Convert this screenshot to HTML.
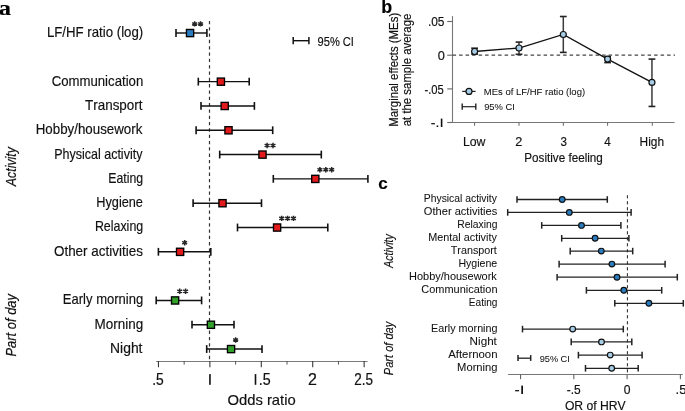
<!DOCTYPE html>
<html><head><meta charset="utf-8"><style>
html,body{margin:0;padding:0;background:#fff;}
body{width:685px;height:411px;overflow:hidden;}
svg{display:block;font-family:"Liberation Sans", sans-serif;font-kerning:none;will-change:transform;}
text{stroke:#111;stroke-width:0.16px;}
</style></head><body>
<svg width="685" height="411" viewBox="0 0 685 411">
<rect width="685" height="411" fill="#fff"/>
<text x="-1.19" y="14.80" font-size="22" textLength="12.26" lengthAdjust="spacingAndGlyphs" font-weight="bold" font-family='"Liberation Serif", serif' fill="#000">a</text>
<line x1="209.50" y1="20.90" x2="209.50" y2="361.00" stroke="#333" stroke-width="1.2" stroke-dasharray="3.3 3.02"/>
<line x1="156.20" y1="361.50" x2="367.60" y2="361.50" stroke="#7a7a7a" stroke-width="1.0" />
<line x1="158.45" y1="361.00" x2="158.45" y2="367.30" stroke="#3a3a3a" stroke-width="1.1" />
<line x1="209.88" y1="361.00" x2="209.88" y2="367.30" stroke="#3a3a3a" stroke-width="1.1" />
<line x1="261.30" y1="361.00" x2="261.30" y2="367.30" stroke="#3a3a3a" stroke-width="1.1" />
<line x1="312.72" y1="361.00" x2="312.72" y2="367.30" stroke="#3a3a3a" stroke-width="1.1" />
<line x1="364.15" y1="361.00" x2="364.15" y2="367.30" stroke="#3a3a3a" stroke-width="1.1" />
<line x1="184.16" y1="361.00" x2="184.16" y2="364.60" stroke="#555" stroke-width="1.0" />
<line x1="235.59" y1="361.00" x2="235.59" y2="364.60" stroke="#555" stroke-width="1.0" />
<line x1="287.01" y1="361.00" x2="287.01" y2="364.60" stroke="#555" stroke-width="1.0" />
<line x1="338.44" y1="361.00" x2="338.44" y2="364.60" stroke="#555" stroke-width="1.0" />
<text x="152.14" y="384.80" font-size="16.2" textLength="11.55" lengthAdjust="spacingAndGlyphs" style="stroke-width:0.22px" fill="#111">.5</text>
<rect x="209.15" y="374.10" width="1.60" height="10.70" fill="#111"/>
<rect x="254.70" y="374.10" width="1.60" height="10.70" fill="#111"/>
<text x="258.70" y="384.80" font-size="16.2" textLength="11.90" lengthAdjust="spacingAndGlyphs" style="stroke-width:0.22px" fill="#111">.5</text>
<text x="307.99" y="384.80" font-size="16.2" textLength="8.91" lengthAdjust="spacingAndGlyphs" style="stroke-width:0.22px" fill="#111">2</text>
<text x="354.22" y="384.80" font-size="16.2" textLength="18.74" lengthAdjust="spacingAndGlyphs" style="stroke-width:0.22px" fill="#111">2.5</text>
<text x="227.40" y="404.80" font-size="14.6" textLength="68.32" lengthAdjust="spacingAndGlyphs" fill="#111">Odds ratio</text>
<line x1="293.20" y1="40.70" x2="309.00" y2="40.70" stroke="#111" stroke-width="1.4" />
<line x1="293.20" y1="37.10" x2="293.20" y2="44.30" stroke="#111" stroke-width="1.5" />
<line x1="308.90" y1="37.10" x2="308.90" y2="44.30" stroke="#111" stroke-width="1.5" />
<text x="317.58" y="45.60" font-size="12.2" textLength="36.34" lengthAdjust="spacingAndGlyphs" fill="#111">95% CI</text>
<text x="46.91" y="36.95" font-size="14.1" textLength="96.31" lengthAdjust="spacingAndGlyphs" fill="#111">LF/HF ratio (log)</text>
<line x1="176.00" y1="33.00" x2="206.90" y2="33.00" stroke="#111" stroke-width="1.45" />
<line x1="176.00" y1="29.10" x2="176.00" y2="36.90" stroke="#111" stroke-width="1.6" />
<line x1="206.90" y1="29.10" x2="206.90" y2="36.90" stroke="#111" stroke-width="1.6" />
<rect x="186.45" y="29.45" width="7.2" height="7.2" fill="#2a7cc0" stroke="#000" stroke-width="1.35"/>
<path d="M194.65 21.20V26.60M192.20 22.55L197.10 25.25M192.20 25.25L197.10 22.55" stroke="#262626" stroke-width="1.5" fill="none"/>
<path d="M200.55 21.20V26.60M198.10 22.55L203.00 25.25M198.10 25.25L203.00 22.55" stroke="#262626" stroke-width="1.5" fill="none"/>
<text x="51.63" y="85.57" font-size="14.1" textLength="91.63" lengthAdjust="spacingAndGlyphs" fill="#111">Communication</text>
<line x1="198.30" y1="81.62" x2="249.20" y2="81.62" stroke="#111" stroke-width="1.45" />
<line x1="198.30" y1="77.72" x2="198.30" y2="85.52" stroke="#111" stroke-width="1.6" />
<line x1="249.20" y1="77.72" x2="249.20" y2="85.52" stroke="#111" stroke-width="1.6" />
<rect x="217.30" y="78.07" width="7.2" height="7.2" fill="#e31a1c" stroke="#000" stroke-width="1.35"/>
<text x="85.00" y="109.88" font-size="14.1" textLength="57.50" lengthAdjust="spacingAndGlyphs" fill="#111">Transport</text>
<line x1="201.00" y1="105.93" x2="254.40" y2="105.93" stroke="#111" stroke-width="1.45" />
<line x1="201.00" y1="102.03" x2="201.00" y2="109.83" stroke="#111" stroke-width="1.6" />
<line x1="254.40" y1="102.03" x2="254.40" y2="109.83" stroke="#111" stroke-width="1.6" />
<rect x="221.10" y="102.38" width="7.2" height="7.2" fill="#e31a1c" stroke="#000" stroke-width="1.35"/>
<text x="35.71" y="134.19" font-size="14.1" textLength="106.67" lengthAdjust="spacingAndGlyphs" fill="#111">Hobby/housework</text>
<line x1="196.10" y1="130.24" x2="272.70" y2="130.24" stroke="#111" stroke-width="1.45" />
<line x1="196.10" y1="126.34" x2="196.10" y2="134.14" stroke="#111" stroke-width="1.6" />
<line x1="272.70" y1="126.34" x2="272.70" y2="134.14" stroke="#111" stroke-width="1.6" />
<rect x="224.90" y="126.69" width="7.2" height="7.2" fill="#e31a1c" stroke="#000" stroke-width="1.35"/>
<text x="54.17" y="158.50" font-size="14.1" textLength="88.25" lengthAdjust="spacingAndGlyphs" fill="#111">Physical activity</text>
<line x1="219.70" y1="154.55" x2="321.30" y2="154.55" stroke="#111" stroke-width="1.45" />
<line x1="219.70" y1="150.65" x2="219.70" y2="158.45" stroke="#111" stroke-width="1.6" />
<line x1="321.30" y1="150.65" x2="321.30" y2="158.45" stroke="#111" stroke-width="1.6" />
<rect x="258.90" y="151.00" width="7.2" height="7.2" fill="#e31a1c" stroke="#000" stroke-width="1.35"/>
<path d="M267.10 142.75V148.15M264.65 144.10L269.55 146.80M264.65 146.80L269.55 144.10" stroke="#262626" stroke-width="1.5" fill="none"/>
<path d="M273.00 142.75V148.15M270.55 144.10L275.45 146.80M270.55 146.80L275.45 144.10" stroke="#262626" stroke-width="1.5" fill="none"/>
<text x="108.29" y="182.81" font-size="14.1" textLength="34.90" lengthAdjust="spacingAndGlyphs" fill="#111">Eating</text>
<line x1="273.30" y1="178.86" x2="367.90" y2="178.86" stroke="#111" stroke-width="1.45" />
<line x1="273.30" y1="174.96" x2="273.30" y2="182.76" stroke="#111" stroke-width="1.6" />
<line x1="367.90" y1="174.96" x2="367.90" y2="182.76" stroke="#111" stroke-width="1.6" />
<rect x="311.70" y="175.31" width="7.2" height="7.2" fill="#e31a1c" stroke="#000" stroke-width="1.35"/>
<path d="M319.90 167.06V172.46M317.45 168.41L322.35 171.11M317.45 171.11L322.35 168.41" stroke="#262626" stroke-width="1.5" fill="none"/>
<path d="M325.80 167.06V172.46M323.35 168.41L328.25 171.11M323.35 171.11L328.25 168.41" stroke="#262626" stroke-width="1.5" fill="none"/>
<path d="M331.70 167.06V172.46M329.25 168.41L334.15 171.11M329.25 171.11L334.15 168.41" stroke="#262626" stroke-width="1.5" fill="none"/>
<text x="96.26" y="207.12" font-size="14.1" textLength="46.71" lengthAdjust="spacingAndGlyphs" fill="#111">Hygiene</text>
<line x1="193.10" y1="203.17" x2="261.50" y2="203.17" stroke="#111" stroke-width="1.45" />
<line x1="193.10" y1="199.27" x2="193.10" y2="207.07" stroke="#111" stroke-width="1.6" />
<line x1="261.50" y1="199.27" x2="261.50" y2="207.07" stroke="#111" stroke-width="1.6" />
<rect x="218.90" y="199.62" width="7.2" height="7.2" fill="#e31a1c" stroke="#000" stroke-width="1.35"/>
<text x="94.88" y="231.43" font-size="14.1" textLength="48.32" lengthAdjust="spacingAndGlyphs" fill="#111">Relaxing</text>
<line x1="237.50" y1="227.48" x2="327.80" y2="227.48" stroke="#111" stroke-width="1.45" />
<line x1="237.50" y1="223.58" x2="237.50" y2="231.38" stroke="#111" stroke-width="1.6" />
<line x1="327.80" y1="223.58" x2="327.80" y2="231.38" stroke="#111" stroke-width="1.6" />
<rect x="273.50" y="223.93" width="7.2" height="7.2" fill="#e31a1c" stroke="#000" stroke-width="1.35"/>
<path d="M281.70 215.68V221.08M279.25 217.03L284.15 219.73M279.25 219.73L284.15 217.03" stroke="#262626" stroke-width="1.5" fill="none"/>
<path d="M287.60 215.68V221.08M285.15 217.03L290.05 219.73M285.15 219.73L290.05 217.03" stroke="#262626" stroke-width="1.5" fill="none"/>
<path d="M293.50 215.68V221.08M291.05 217.03L295.95 219.73M291.05 219.73L295.95 217.03" stroke="#262626" stroke-width="1.5" fill="none"/>
<text x="53.96" y="255.74" font-size="14.1" textLength="88.92" lengthAdjust="spacingAndGlyphs" fill="#111">Other activities</text>
<line x1="158.40" y1="251.79" x2="210.80" y2="251.79" stroke="#111" stroke-width="1.45" />
<line x1="158.40" y1="247.89" x2="158.40" y2="255.69" stroke="#111" stroke-width="1.6" />
<line x1="210.80" y1="247.89" x2="210.80" y2="255.69" stroke="#111" stroke-width="1.6" />
<rect x="176.50" y="248.24" width="7.2" height="7.2" fill="#e31a1c" stroke="#000" stroke-width="1.35"/>
<path d="M184.70 239.99V245.39M182.25 241.34L187.15 244.04M182.25 244.04L187.15 241.34" stroke="#262626" stroke-width="1.5" fill="none"/>
<text x="62.83" y="304.36" font-size="14.1" textLength="80.41" lengthAdjust="spacingAndGlyphs" fill="#111">Early morning</text>
<line x1="156.20" y1="300.41" x2="201.60" y2="300.41" stroke="#111" stroke-width="1.45" />
<line x1="156.20" y1="296.51" x2="156.20" y2="304.31" stroke="#111" stroke-width="1.6" />
<line x1="201.60" y1="296.51" x2="201.60" y2="304.31" stroke="#111" stroke-width="1.6" />
<rect x="171.50" y="296.86" width="7.2" height="7.2" fill="#33a02c" stroke="#000" stroke-width="1.35"/>
<path d="M179.70 288.61V294.01M177.25 289.96L182.15 292.66M177.25 292.66L182.15 289.96" stroke="#262626" stroke-width="1.5" fill="none"/>
<path d="M185.60 288.61V294.01M183.15 289.96L188.05 292.66M183.15 292.66L188.05 289.96" stroke="#262626" stroke-width="1.5" fill="none"/>
<text x="94.59" y="328.67" font-size="14.1" textLength="48.67" lengthAdjust="spacingAndGlyphs" fill="#111">Morning</text>
<line x1="192.00" y1="324.72" x2="234.00" y2="324.72" stroke="#111" stroke-width="1.45" />
<line x1="192.00" y1="320.82" x2="192.00" y2="328.62" stroke="#111" stroke-width="1.6" />
<line x1="234.00" y1="320.82" x2="234.00" y2="328.62" stroke="#111" stroke-width="1.6" />
<rect x="207.30" y="321.17" width="7.2" height="7.2" fill="#33a02c" stroke="#000" stroke-width="1.35"/>
<text x="110.06" y="352.98" font-size="14.1" textLength="32.44" lengthAdjust="spacingAndGlyphs" fill="#111">Night</text>
<line x1="206.70" y1="349.03" x2="262.00" y2="349.03" stroke="#111" stroke-width="1.45" />
<line x1="206.70" y1="345.13" x2="206.70" y2="352.93" stroke="#111" stroke-width="1.6" />
<line x1="262.00" y1="345.13" x2="262.00" y2="352.93" stroke="#111" stroke-width="1.6" />
<rect x="227.45" y="345.48" width="7.2" height="7.2" fill="#33a02c" stroke="#000" stroke-width="1.35"/>
<path d="M235.65 337.23V342.63M233.20 338.58L238.10 341.28M233.20 341.28L238.10 338.58" stroke="#262626" stroke-width="1.5" fill="none"/>
<text x="-186.19" y="15.70" font-size="14.2" textLength="39.17" lengthAdjust="spacingAndGlyphs" font-style="italic" transform="rotate(-90)" style="stroke-width:0.2px" fill="#111">Activity</text>
<text x="-356.50" y="15.70" font-size="14.4" textLength="62.45" lengthAdjust="spacingAndGlyphs" font-style="italic" transform="rotate(-90)" style="stroke-width:0.2px" fill="#111">Part of day</text>
<text x="381.32" y="12.50" font-size="17.5" textLength="10.91" lengthAdjust="spacingAndGlyphs" font-weight="bold" fill="#000">b</text>
<line x1="452.50" y1="16.10" x2="452.50" y2="122.50" stroke="#777" stroke-width="1.1" />
<line x1="447.20" y1="21.50" x2="452.50" y2="21.50" stroke="#666" stroke-width="1.1" />
<line x1="447.20" y1="55.20" x2="452.50" y2="55.20" stroke="#666" stroke-width="1.1" />
<line x1="447.20" y1="88.90" x2="452.50" y2="88.90" stroke="#666" stroke-width="1.1" />
<line x1="447.20" y1="122.50" x2="452.50" y2="122.50" stroke="#666" stroke-width="1.1" />
<text x="427.91" y="26.30" font-size="12.6" textLength="16.59" lengthAdjust="spacingAndGlyphs" fill="#111">.05</text>
<text x="437.80" y="59.80" font-size="12.6" textLength="7.10" lengthAdjust="spacingAndGlyphs" fill="#111">0</text>
<text x="424.40" y="93.80" font-size="12.6" textLength="19.37" lengthAdjust="spacingAndGlyphs" fill="#111">-.05</text>
<text x="430.87" y="127.00" font-size="12.6" textLength="8.61" lengthAdjust="spacingAndGlyphs" fill="#111">-.</text>
<rect x="440.80" y="118.60" width="1.60" height="8.40" fill="#111"/>
<line x1="452.00" y1="122.50" x2="674.60" y2="122.50" stroke="#777" stroke-width="1.1" />
<line x1="474.60" y1="122.50" x2="474.60" y2="125.80" stroke="#666" stroke-width="1.0" />
<line x1="519.00" y1="122.50" x2="519.00" y2="125.80" stroke="#666" stroke-width="1.0" />
<line x1="563.30" y1="122.50" x2="563.30" y2="125.80" stroke="#666" stroke-width="1.0" />
<line x1="607.60" y1="122.50" x2="607.60" y2="125.80" stroke="#666" stroke-width="1.0" />
<line x1="652.30" y1="122.50" x2="652.30" y2="125.80" stroke="#666" stroke-width="1.0" />
<text x="462.89" y="145.80" font-size="12.6" textLength="22.58" lengthAdjust="spacingAndGlyphs" fill="#111">Low</text>
<text x="515.36" y="145.80" font-size="12.6" textLength="7.08" lengthAdjust="spacingAndGlyphs" fill="#111">2</text>
<text x="560.46" y="145.80" font-size="12.6" textLength="6.45" lengthAdjust="spacingAndGlyphs" fill="#111">3</text>
<text x="604.23" y="145.80" font-size="12.6" textLength="6.51" lengthAdjust="spacingAndGlyphs" fill="#111">4</text>
<text x="639.62" y="146.00" font-size="12.6" textLength="24.45" lengthAdjust="spacingAndGlyphs" fill="#111">High</text>
<text x="524.34" y="161.80" font-size="12.4" textLength="78.51" lengthAdjust="spacingAndGlyphs" fill="#111">Positive feeling</text>
<text x="-126.84" y="398.20" font-size="12.4" textLength="114.04" lengthAdjust="spacingAndGlyphs" transform="rotate(-90)" fill="#111">Marginal effects (MEs)</text>
<text x="-126.28" y="410.70" font-size="12.4" textLength="112.59" lengthAdjust="spacingAndGlyphs" transform="rotate(-90)" fill="#111">at the sample average</text>
<line x1="452.60" y1="55.15" x2="675.00" y2="55.15" stroke="#444" stroke-width="1.25" stroke-dasharray="3.5 3.0"/>
<line x1="474.60" y1="48.20" x2="474.60" y2="54.10" stroke="#3a3a3a" stroke-width="1.5" />
<line x1="471.20" y1="48.20" x2="478.00" y2="48.20" stroke="#222" stroke-width="1.6" />
<line x1="471.20" y1="54.10" x2="478.00" y2="54.10" stroke="#222" stroke-width="1.6" />
<line x1="519.00" y1="42.10" x2="519.00" y2="54.30" stroke="#3a3a3a" stroke-width="1.5" />
<line x1="515.60" y1="42.10" x2="522.40" y2="42.10" stroke="#222" stroke-width="1.6" />
<line x1="515.60" y1="54.30" x2="522.40" y2="54.30" stroke="#222" stroke-width="1.6" />
<line x1="563.30" y1="16.50" x2="563.30" y2="52.40" stroke="#3a3a3a" stroke-width="1.5" />
<line x1="559.90" y1="16.50" x2="566.70" y2="16.50" stroke="#222" stroke-width="1.6" />
<line x1="559.90" y1="52.40" x2="566.70" y2="52.40" stroke="#222" stroke-width="1.6" />
<line x1="607.60" y1="56.70" x2="607.60" y2="62.60" stroke="#3a3a3a" stroke-width="1.5" />
<line x1="604.20" y1="56.70" x2="611.00" y2="56.70" stroke="#222" stroke-width="1.6" />
<line x1="604.20" y1="62.60" x2="611.00" y2="62.60" stroke="#222" stroke-width="1.6" />
<line x1="651.95" y1="59.10" x2="651.95" y2="106.45" stroke="#3a3a3a" stroke-width="1.5" />
<line x1="648.55" y1="59.10" x2="655.35" y2="59.10" stroke="#222" stroke-width="1.6" />
<line x1="648.55" y1="106.45" x2="655.35" y2="106.45" stroke="#222" stroke-width="1.6" />
<polyline points="474.60,51.50 519.00,48.00 563.30,34.50 607.60,59.10 651.95,82.45" fill="none" stroke="#111" stroke-width="1.3"/>
<circle cx="474.60" cy="51.50" r="3.0" fill="#a7cde6" stroke="#111" stroke-width="1.2"/>
<circle cx="519.00" cy="48.00" r="3.0" fill="#a7cde6" stroke="#111" stroke-width="1.2"/>
<circle cx="563.30" cy="34.50" r="3.0" fill="#a7cde6" stroke="#111" stroke-width="1.2"/>
<circle cx="607.60" cy="59.10" r="3.0" fill="#a7cde6" stroke="#111" stroke-width="1.2"/>
<circle cx="651.95" cy="82.45" r="3.0" fill="#a7cde6" stroke="#111" stroke-width="1.2"/>
<line x1="462.20" y1="91.40" x2="475.60" y2="91.40" stroke="#222" stroke-width="1.2" />
<circle cx="469.0" cy="91.4" r="3.0" fill="#a7cde6" stroke="#111" stroke-width="1.2"/>
<text x="483.82" y="94.75" font-size="9.6" textLength="101.27" lengthAdjust="spacingAndGlyphs" style="stroke-width:0.05px" fill="#111">MEs of LF/HF ratio (log)</text>
<line x1="462.20" y1="106.70" x2="475.80" y2="106.70" stroke="#222" stroke-width="1.2" />
<line x1="462.20" y1="103.60" x2="462.20" y2="109.80" stroke="#222" stroke-width="1.4" />
<line x1="475.80" y1="103.60" x2="475.80" y2="109.80" stroke="#222" stroke-width="1.4" />
<text x="484.16" y="109.60" font-size="9.6" textLength="30.70" lengthAdjust="spacingAndGlyphs" style="stroke-width:0.05px" fill="#111">95% CI</text>
<text x="378.34" y="189.00" font-size="16.6" textLength="9.46" lengthAdjust="spacingAndGlyphs" font-weight="bold" fill="#000">c</text>
<line x1="627.40" y1="195.20" x2="627.40" y2="374.40" stroke="#222" stroke-width="1.0" stroke-dasharray="3.2 2.8"/>
<line x1="508.10" y1="374.50" x2="682.80" y2="374.50" stroke="#777" stroke-width="1.0" />
<line x1="520.60" y1="374.50" x2="520.60" y2="379.20" stroke="#555" stroke-width="1.0" />
<line x1="573.85" y1="374.50" x2="573.85" y2="379.20" stroke="#555" stroke-width="1.0" />
<line x1="627.10" y1="374.50" x2="627.10" y2="379.20" stroke="#555" stroke-width="1.0" />
<line x1="680.35" y1="374.50" x2="680.35" y2="379.20" stroke="#555" stroke-width="1.0" />
<text x="514.61" y="394.00" font-size="12" textLength="5.18" lengthAdjust="spacingAndGlyphs" fill="#111">-</text>
<rect x="521.30" y="385.60" width="1.70" height="8.40" fill="#111"/>
<text x="566.67" y="394.00" font-size="12" textLength="13.93" lengthAdjust="spacingAndGlyphs" fill="#111">-.5</text>
<text x="623.83" y="394.10" font-size="12" textLength="6.75" lengthAdjust="spacingAndGlyphs" fill="#111">0</text>
<text x="675.60" y="394.00" font-size="12" textLength="10.95" lengthAdjust="spacingAndGlyphs" fill="#111">.5</text>
<text x="564.92" y="410.20" font-size="12.2" textLength="60.83" lengthAdjust="spacingAndGlyphs" fill="#111">OR of HRV</text>
<text x="423.85" y="202.30" font-size="10.5" textLength="72.97" lengthAdjust="spacingAndGlyphs" style="stroke-width:0.05px" fill="#111">Physical activity</text>
<line x1="517.00" y1="199.50" x2="607.30" y2="199.50" stroke="#222" stroke-width="1.3" />
<line x1="517.00" y1="196.20" x2="517.00" y2="202.80" stroke="#222" stroke-width="1.5" />
<line x1="607.30" y1="196.20" x2="607.30" y2="202.80" stroke="#222" stroke-width="1.5" />
<circle cx="562.20" cy="199.50" r="2.85" fill="#2a7cc0" stroke="#111" stroke-width="1.2"/>
<text x="423.87" y="215.20" font-size="10.5" textLength="73.33" lengthAdjust="spacingAndGlyphs" style="stroke-width:0.05px" fill="#111">Other activities</text>
<line x1="507.70" y1="212.40" x2="631.10" y2="212.40" stroke="#222" stroke-width="1.3" />
<line x1="507.70" y1="209.10" x2="507.70" y2="215.70" stroke="#222" stroke-width="1.5" />
<line x1="631.10" y1="209.10" x2="631.10" y2="215.70" stroke="#222" stroke-width="1.5" />
<circle cx="569.30" cy="212.40" r="2.85" fill="#2a7cc0" stroke="#111" stroke-width="1.2"/>
<text x="457.35" y="228.20" font-size="10.5" textLength="40.11" lengthAdjust="spacingAndGlyphs" style="stroke-width:0.05px" fill="#111">Relaxing</text>
<line x1="541.70" y1="225.40" x2="620.90" y2="225.40" stroke="#222" stroke-width="1.3" />
<line x1="541.70" y1="222.10" x2="541.70" y2="228.70" stroke="#222" stroke-width="1.5" />
<line x1="620.90" y1="222.10" x2="620.90" y2="228.70" stroke="#222" stroke-width="1.5" />
<circle cx="581.50" cy="225.40" r="2.85" fill="#2a7cc0" stroke="#111" stroke-width="1.2"/>
<text x="428.21" y="241.10" font-size="10.5" textLength="68.61" lengthAdjust="spacingAndGlyphs" style="stroke-width:0.05px" fill="#111">Mental activity</text>
<line x1="561.70" y1="238.30" x2="628.90" y2="238.30" stroke="#222" stroke-width="1.3" />
<line x1="561.70" y1="235.00" x2="561.70" y2="241.60" stroke="#222" stroke-width="1.5" />
<line x1="628.90" y1="235.00" x2="628.90" y2="241.60" stroke="#222" stroke-width="1.5" />
<circle cx="595.10" cy="238.30" r="2.85" fill="#2a7cc0" stroke="#111" stroke-width="1.2"/>
<text x="450.76" y="253.90" font-size="10.5" textLength="46.12" lengthAdjust="spacingAndGlyphs" style="stroke-width:0.05px" fill="#111">Transport</text>
<line x1="570.20" y1="251.10" x2="632.70" y2="251.10" stroke="#222" stroke-width="1.3" />
<line x1="570.20" y1="247.80" x2="570.20" y2="254.40" stroke="#222" stroke-width="1.5" />
<line x1="632.70" y1="247.80" x2="632.70" y2="254.40" stroke="#222" stroke-width="1.5" />
<circle cx="601.30" cy="251.10" r="2.85" fill="#2a7cc0" stroke="#111" stroke-width="1.2"/>
<text x="458.43" y="266.90" font-size="10.5" textLength="38.84" lengthAdjust="spacingAndGlyphs" style="stroke-width:0.05px" fill="#111">Hygiene</text>
<line x1="559.10" y1="264.10" x2="665.10" y2="264.10" stroke="#222" stroke-width="1.3" />
<line x1="559.10" y1="260.80" x2="559.10" y2="267.40" stroke="#222" stroke-width="1.5" />
<line x1="665.10" y1="260.80" x2="665.10" y2="267.40" stroke="#222" stroke-width="1.5" />
<circle cx="611.90" cy="264.10" r="2.85" fill="#2a7cc0" stroke="#111" stroke-width="1.2"/>
<text x="409.10" y="280.00" font-size="10.5" textLength="87.68" lengthAdjust="spacingAndGlyphs" style="stroke-width:0.05px" fill="#111">Hobby/housework</text>
<line x1="557.10" y1="277.20" x2="677.30" y2="277.20" stroke="#222" stroke-width="1.3" />
<line x1="557.10" y1="273.90" x2="557.10" y2="280.50" stroke="#222" stroke-width="1.5" />
<line x1="677.30" y1="273.90" x2="677.30" y2="280.50" stroke="#222" stroke-width="1.5" />
<circle cx="617.00" cy="277.20" r="2.85" fill="#2a7cc0" stroke="#111" stroke-width="1.2"/>
<text x="421.34" y="293.10" font-size="10.5" textLength="76.17" lengthAdjust="spacingAndGlyphs" style="stroke-width:0.05px" fill="#111">Communication</text>
<line x1="586.40" y1="290.30" x2="661.70" y2="290.30" stroke="#222" stroke-width="1.3" />
<line x1="586.40" y1="287.00" x2="586.40" y2="293.60" stroke="#222" stroke-width="1.5" />
<line x1="661.70" y1="287.00" x2="661.70" y2="293.60" stroke="#222" stroke-width="1.5" />
<circle cx="623.80" cy="290.30" r="2.85" fill="#2a7cc0" stroke="#111" stroke-width="1.2"/>
<text x="468.77" y="306.10" font-size="10.5" textLength="28.68" lengthAdjust="spacingAndGlyphs" style="stroke-width:0.05px" fill="#111">Eating</text>
<line x1="614.80" y1="303.30" x2="683.30" y2="303.30" stroke="#222" stroke-width="1.3" />
<line x1="614.80" y1="300.00" x2="614.80" y2="306.60" stroke="#222" stroke-width="1.5" />
<line x1="683.30" y1="300.00" x2="683.30" y2="306.60" stroke="#222" stroke-width="1.5" />
<circle cx="648.90" cy="303.30" r="2.85" fill="#2a7cc0" stroke="#111" stroke-width="1.2"/>
<text x="431.12" y="331.90" font-size="10.5" textLength="66.38" lengthAdjust="spacingAndGlyphs" style="stroke-width:0.05px" fill="#111">Early morning</text>
<line x1="522.50" y1="329.10" x2="623.30" y2="329.10" stroke="#222" stroke-width="1.3" />
<line x1="522.50" y1="325.80" x2="522.50" y2="332.40" stroke="#222" stroke-width="1.5" />
<line x1="623.30" y1="325.80" x2="623.30" y2="332.40" stroke="#222" stroke-width="1.5" />
<circle cx="572.70" cy="329.10" r="2.85" fill="#a7cde6" stroke="#111" stroke-width="1.2"/>
<text x="469.64" y="344.70" font-size="10.5" textLength="27.24" lengthAdjust="spacingAndGlyphs" style="stroke-width:0.05px" fill="#111">Night</text>
<line x1="571.20" y1="341.90" x2="631.80" y2="341.90" stroke="#222" stroke-width="1.3" />
<line x1="571.20" y1="338.60" x2="571.20" y2="345.20" stroke="#222" stroke-width="1.5" />
<line x1="631.80" y1="338.60" x2="631.80" y2="345.20" stroke="#222" stroke-width="1.5" />
<circle cx="601.50" cy="341.90" r="2.85" fill="#a7cde6" stroke="#111" stroke-width="1.2"/>
<text x="448.18" y="357.90" font-size="10.5" textLength="49.36" lengthAdjust="spacingAndGlyphs" style="stroke-width:0.05px" fill="#111">Afternoon</text>
<line x1="578.40" y1="355.10" x2="642.10" y2="355.10" stroke="#222" stroke-width="1.3" />
<line x1="578.40" y1="351.80" x2="578.40" y2="358.40" stroke="#222" stroke-width="1.5" />
<line x1="642.10" y1="351.80" x2="642.10" y2="358.40" stroke="#222" stroke-width="1.5" />
<circle cx="610.20" cy="355.10" r="2.85" fill="#a7cde6" stroke="#111" stroke-width="1.2"/>
<text x="457.08" y="371.10" font-size="10.5" textLength="40.44" lengthAdjust="spacingAndGlyphs" style="stroke-width:0.05px" fill="#111">Morning</text>
<line x1="585.50" y1="368.30" x2="638.20" y2="368.30" stroke="#222" stroke-width="1.3" />
<line x1="585.50" y1="365.00" x2="585.50" y2="371.60" stroke="#222" stroke-width="1.5" />
<line x1="638.20" y1="365.00" x2="638.20" y2="371.60" stroke="#222" stroke-width="1.5" />
<circle cx="611.70" cy="368.30" r="2.85" fill="#a7cde6" stroke="#111" stroke-width="1.2"/>
<line x1="518.00" y1="358.20" x2="530.70" y2="358.20" stroke="#222" stroke-width="1.3" />
<line x1="518.00" y1="355.10" x2="518.00" y2="360.90" stroke="#222" stroke-width="1.5" />
<line x1="530.70" y1="355.10" x2="530.70" y2="360.90" stroke="#222" stroke-width="1.5" />
<text x="539.67" y="362.00" font-size="9.3" textLength="30.18" lengthAdjust="spacingAndGlyphs" style="stroke-width:0.05px" fill="#111">95% CI</text>
<text x="-267.68" y="392.60" font-size="12" textLength="33.35" lengthAdjust="spacingAndGlyphs" font-style="italic" transform="rotate(-90)" fill="#111">Activity</text>
<text x="-375.14" y="392.80" font-size="12.3" textLength="53.28" lengthAdjust="spacingAndGlyphs" font-style="italic" transform="rotate(-90)" fill="#111">Part of day</text>
</svg>
</body></html>
